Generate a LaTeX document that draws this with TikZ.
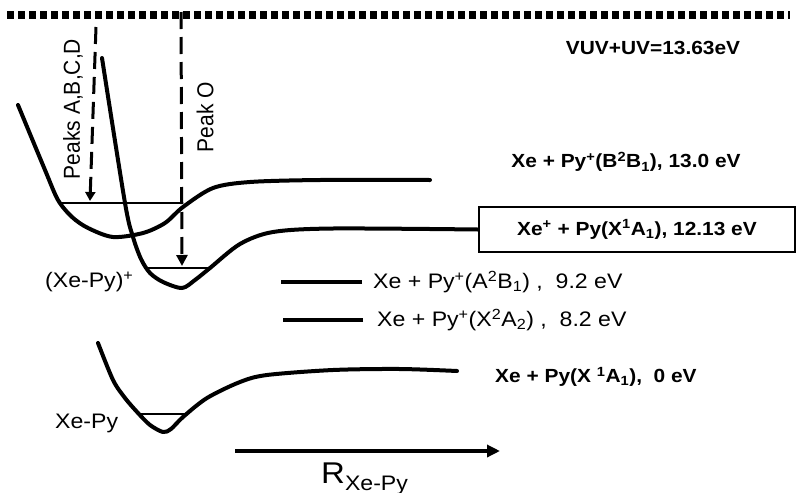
\documentclass[tikz,border=0pt]{standalone}
\usepackage{fontspec}
\setmainfont{Liberation Sans}
\usetikzlibrary{arrows.meta}
\newcommand\hstr[1]{\scalebox{1.1}[1]{#1}}
\newcommand\vstr[1]{\scalebox{1}[1.1]{#1}}
\begin{document}
\begin{tikzpicture}[x=1pt,y=-1pt,
  curve/.style={line width=4pt, line cap=round, line join=round},
  levelln/.style={line width=2.5pt},
  shortln/.style={line width=3.5pt},
  dashln/.style={line width=3pt, dash pattern=on 17pt off 8pt},
  lab/.style={font=\fontsize{21}{25}\selectfont, inner sep=0pt},
  blab/.style={font=\fontsize{19}{23}\selectfont\bfseries, inner sep=0pt}]
\useasboundingbox (0,0) rectangle (796,493);

% top dotted line (VUV+UV energy)
\coordinate (d0) at (7,15);
\coordinate (d1) at (790,15);
\draw[line width=7.5pt, dash pattern=on 7pt off 4pt] (d0) -- (d1);

% labels
\node[blab] (vuv) at (653,48) {\hstr{VUV+UV=13.63eV}};
\node[blab] (bst) at (626,162) {\hstr{Xe + Py\textsuperscript{+}(B\textsuperscript{2}B\textsubscript{1}), 13.0 eV}};
\node[blab, draw, line width=2.5pt, minimum width=316pt, minimum height=45pt] (xst) at (637,229.5)
  {\hstr{Xe\textsuperscript{+} + Py(X\textsuperscript{1}A\textsubscript{1}), 12.13 eV}};
\node[lab, anchor=west] (ast) at (373,282) {\hstr{Xe + Py\textsuperscript{+}(A\textsuperscript{2}B\textsubscript{1}) , \ 9.2 eV}};
\node[lab, anchor=west] (xxst) at (377,320) {\hstr{Xe + Py\textsuperscript{+}(X\textsuperscript{2}A\textsubscript{2}) , \ 8.2 eV}};
\node[blab, anchor=west] (gst) at (495,377) {\hstr{Xe + Py(X \textsuperscript{1}A\textsubscript{1}), \ 0 eV}};
\node[lab, anchor=west] (cat) at (45,282) {\hstr{(Xe-Py)\textsuperscript{+}}};
\node[lab, anchor=west] (neu) at (55,423) {\hstr{Xe-Py}};
\node[lab, rotate=90] (pk) at (73,109) {\vstr{Peaks A,B,C,D}};
\node[lab, rotate=90] (po) at (205,117) {\vstr{Peak O}};
\node[inner sep=0pt, anchor=base west] (rl) at (321,483)
  {\hstr{\fontsize{30}{30}\selectfont R\fontsize{21}{21}\selectfont\raisebox{-7pt}{Xe-Py}}};

% upper (B) potential curve
\draw[curve] plot[smooth, tension=0.5] coordinates {(18,105) (45,170) (58,200) (72,217) (88,228) (113,237) (143,233) (165,223) (183,207) (213,188) (250,182) (320,180) (430,180)};
\draw[levelln] (58,203) -- (183,203);

% steep ionic (X) curve to the boxed asymptote
\draw[curve] plot[smooth, tension=0.5] coordinates {(102,58) (125,203) (133,237) (141,259) (150,273) (163,282) (182,288) (195,280) (210,268) (240,244) (273,232) (333,228.5) (xst.west)};
\draw[levelln] (148,268) -- (210,268);

% neutral ground-state curve
\draw[curve] plot[smooth, tension=0.5] coordinates {(98,343) (113,380) (125,398) (138,413) (150,425) (163,432) (171,429) (183,417) (207,398) (240,382) (267,375) (333,370) (400,369) (457,371)};
\draw[levelln] (138,414) -- (185,414);

% short asymptote lines
\draw[shortln] ([xshift=-11pt]ast.west) -- ([xshift=-92pt]ast.west);
\draw[shortln] ([xshift=-14pt]xxst.west) -- ([xshift=-94pt]xxst.west);

% dashed excitation arrows
\coordinate (pa0) at (96,27);
\coordinate (pa1) at (90,201);
\draw[dashln, -{Triangle[length=9pt,width=10pt]}] (pa0) -- (pa1);
\coordinate (po0) at (181,12);
\coordinate (po1) at (182,266);
\draw[dashln, -{Triangle[length=11pt,width=11pt]}] (po0) -- (po1);

% R axis arrow
\coordinate (r0) at (235,451);
\coordinate (r1) at (500,451);
\draw[line width=3.5pt, -{Triangle[length=13pt,width=12pt]}] (r0) -- (r1);
\end{tikzpicture}
\end{document}
